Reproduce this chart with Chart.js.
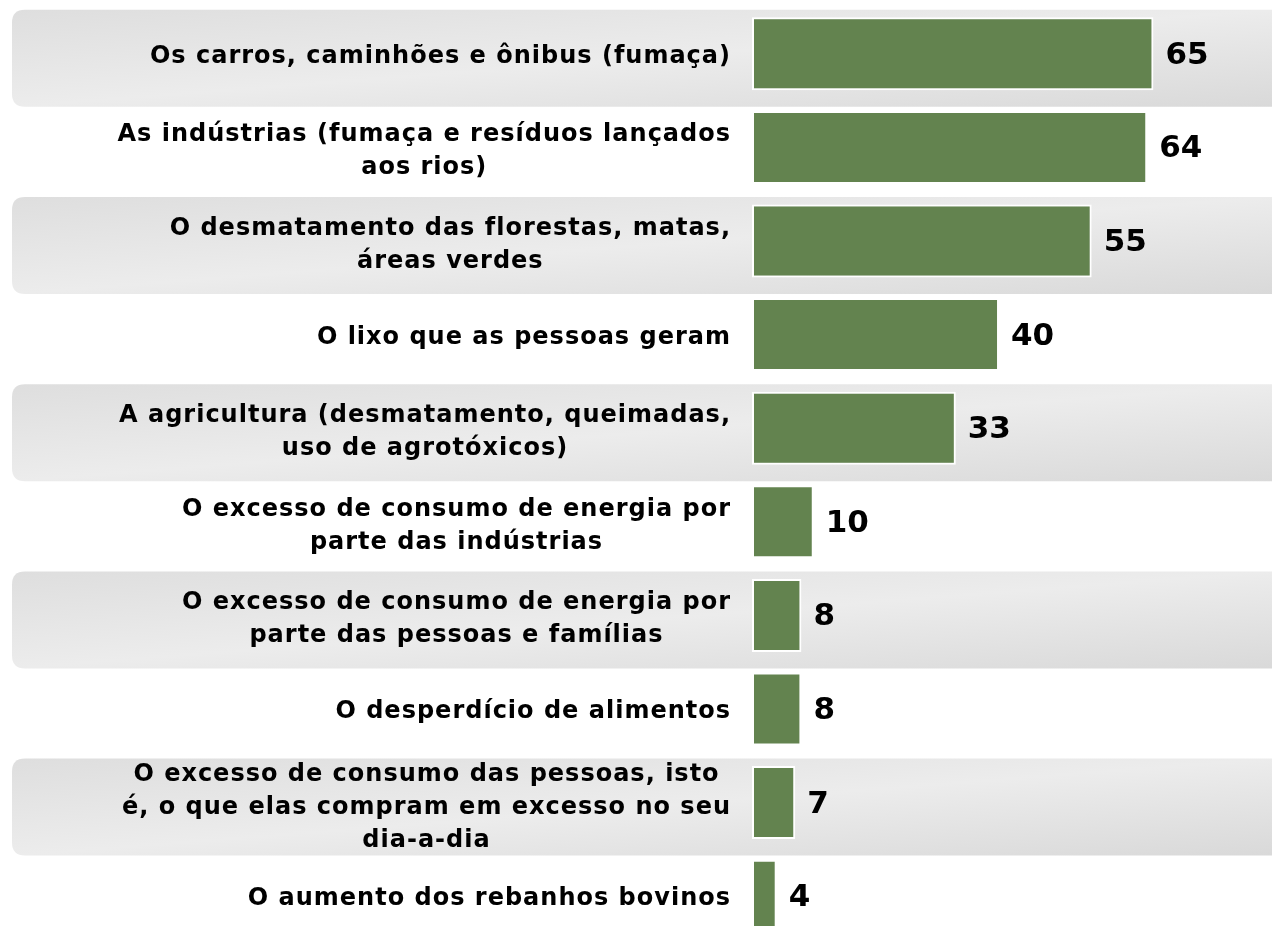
<!DOCTYPE html>
<html>
<head>
<meta charset="utf-8">
<script src="https://cdn.jsdelivr.net/npm/chart.js@4/dist/chart.umd.min.js"></script>
<style>
html,body{margin:0;padding:0;background:#fff;overflow:hidden;}
#wrap{width:1272px;height:944px;}
</style>
</head>
<body>
<div id="wrap"><canvas id="c" width="1272" height="944"></canvas></div>
<script>
const categories = [
  ["Os carros, caminhões e ônibus (fumaça)"],
  ["As indústrias (fumaça e resíduos lançados", "aos rios)"],
  ["O desmatamento das florestas, matas,", "áreas verdes"],
  ["O lixo que as pessoas geram"],
  ["A agricultura (desmatamento, queimadas,", "uso de agrotóxicos)"],
  ["O excesso de consumo de energia por", "parte das indústrias"],
  ["O excesso de consumo de energia por", "parte das pessoas e famílias"],
  ["O desperdício de alimentos"],
  ["O excesso de consumo das pessoas, isto", "é, o que elas compram em excesso no seu", "dia-a-dia"],
  ["O aumento dos rebanhos bovinos"]
];
const values = [65, 64, 55, 40, 33, 10, 8, 8, 7, 4];

const LABEL_FONT = 'bold 24px "DejaVu Sans", Verdana, sans-serif';
const VALUE_FONT = 'bold 31px "DejaVu Sans", Verdana, sans-serif';
const LINE_H = 33;
const LABEL_RIGHT_GAP = 21;

function roundRect(ctx, x, y, w, h, r) {
  ctx.beginPath();
  ctx.moveTo(x + r, y);
  ctx.lineTo(x + w - r, y);
  ctx.quadraticCurveTo(x + w, y, x + w, y + r);
  ctx.lineTo(x + w, y + h - r);
  ctx.quadraticCurveTo(x + w, y + h, x + w - r, y + h);
  ctx.lineTo(x + r, y + h);
  ctx.quadraticCurveTo(x, y + h, x, y + h - r);
  ctx.lineTo(x, y + r);
  ctx.quadraticCurveTo(x, y, x + r, y);
  ctx.closePath();
}

const bandPlugin = {
  id: 'bands',
  beforeDatasetsDraw(chart) {
    const ctx = chart.ctx;
    const ys = chart.scales.y;
    ctx.save();
    categories.forEach((c, i) => {
      if (i % 2 !== 0) return;
      const cy = ys.getPixelForValue(i);
      const top = cy - 44, h = 97;
      const x0 = 12, W = chart.width - x0;
      const ccx = x0 + W / 2, ccy = top + h / 2;
      const nl = Math.hypot(h, W);
      const nx = h / nl, ny = W / nl;
      const L = W * h / nl;
      const g = ctx.createLinearGradient(ccx - nx * L, ccy - ny * L, ccx + nx * L, ccy + ny * L);
      g.addColorStop(0, '#dedede');
      g.addColorStop(0.5, '#ececec');
      g.addColorStop(1, '#d9d9d9');
      ctx.fillStyle = g;
      roundRect(ctx, x0, top, 1300, h, 13);
      ctx.fill();
    });
    ctx.restore();
  }
};

const labelPlugin = {
  id: 'labels',
  afterDatasetsDraw(chart) {
    const ctx = chart.ctx;
    const ys = chart.scales.y;
    const meta = chart.getDatasetMeta(0);
    const rightEdge = chart.chartArea.left - LABEL_RIGHT_GAP;
    ctx.save();
    ctx.fillStyle = '#000';
    ctx.textBaseline = 'middle';
    ctx.font = LABEL_FONT;
    ctx.letterSpacing = '1px';
    ctx.textAlign = 'center';
    categories.forEach((lines, i) => {
      const cy = ys.getPixelForValue(i) + 3 + (lines.length - 1);
      const maxW = Math.max(...lines.map(l => ctx.measureText(l).width));
      const cx = rightEdge - maxW / 2;
      const y0 = cy - (lines.length - 1) * LINE_H / 2;
      lines.forEach((l, k) => ctx.fillText(l, cx, y0 + k * LINE_H));
    });
    ctx.letterSpacing = '0px';
    ctx.font = VALUE_FONT;
    ctx.textAlign = 'left';
    meta.data.forEach((bar, i) => {
      ctx.fillText(String(values[i]), bar.x + 12, bar.y + 2);
    });
    ctx.restore();
  }
};

new Chart(document.getElementById('c'), {
  type: 'bar',
  data: {
    labels: categories,
    datasets: [{
      data: values,
      backgroundColor: '#63834f',
      borderColor: '#ffffff',
      borderWidth: 2,
      borderSkipped: false,
      barPercentage: 0.78,
      categoryPercentage: 1.0
    }]
  },
  options: {
    indexAxis: 'y',
    responsive: false,
    animation: false,
    events: [],
    layout: { padding: { top: 7, bottom: 1, left: 0, right: 0 } },
    plugins: { legend: { display: false }, tooltip: { enabled: false } },
    scales: {
      x: { display: false, min: 0, max: 84.2 },
      y: {
        afterFit(s) { s.width = 752; },
        ticks: { display: false },
        grid: { display: false },
        border: { display: false }
      }
    }
  },
  plugins: [bandPlugin, labelPlugin]
});
</script>
</body>
</html>
